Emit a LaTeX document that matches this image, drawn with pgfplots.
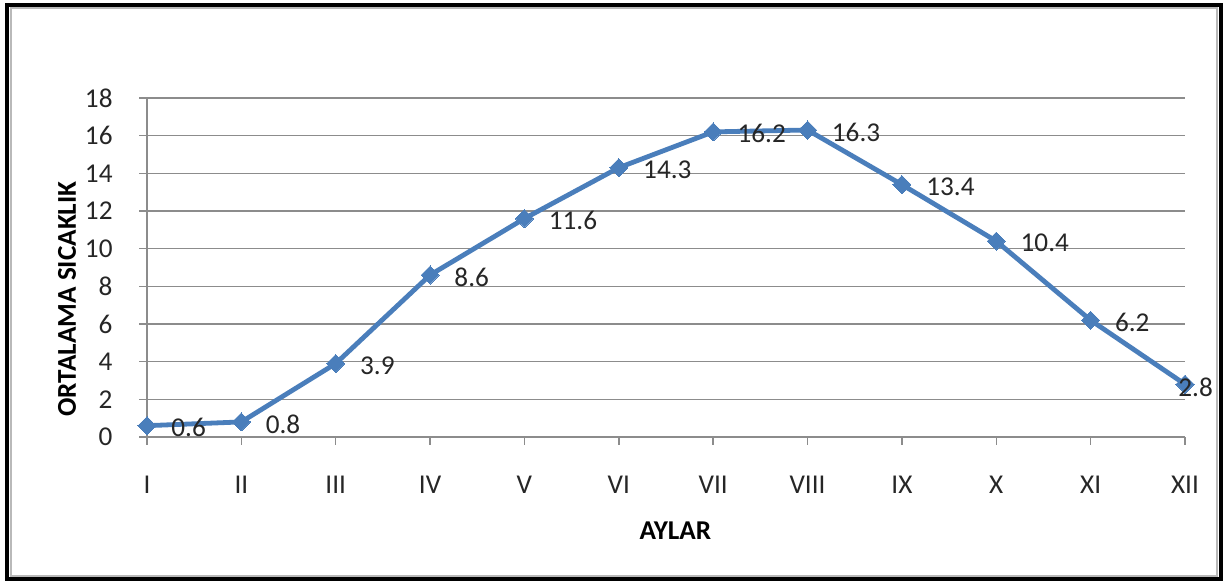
\documentclass[border=0pt]{standalone}
\usepackage{fontspec}
\setmainfont{Carlito}
\usepackage{pgfplots}
\pgfplotsset{compat=1.18}
\definecolor{serie}{HTML}{4A7EBB}
\definecolor{gridc}{HTML}{8C8C8C}
\newcommand{\fs}{\fontsize{13.6}{16}\selectfont}
\begin{document}
\fs
\begin{tikzpicture}
\useasboundingbox (0pt,0pt) rectangle (613.5pt,290.5pt);
\draw[gray!55, line width=1pt] (5.5pt,2.5pt) rectangle (608.25pt,286.25pt);
\draw[black, line width=2pt] (3.5pt,0.75pt) rectangle (610.5pt,288pt);
\begin{axis}[
  at={(73.5pt,72pt)}, anchor=south west,
  scale only axis, width=519pt, height=169.5pt,
  xmin=0, xmax=11, ymin=0, ymax=18,
  xtick={0,...,11},
  xticklabels={I,II,III,IV,V,VI,VII,VIII,IX,X,XI,XII},
  ytick={0,2,...,18},
  /pgf/number format/assume math mode=true,
  ymajorgrids,
  grid style={gridc, line width=0.75pt},
  axis x line*=bottom, axis y line*=left,
  axis line style={gridc, line width=0.75pt, -},
  tick style={gridc, line width=0.75pt},
  tick align=outside, major tick length=4pt,
  xticklabel style={font=\fs, yshift=-11pt, text=black!85},
  yticklabel style={font=\fs, xshift=-8.5pt, text=black!85},
  xlabel={\bfseries AYLAR},
  ylabel={\bfseries ORTALAMA SICAKLIK},
  xlabel style={at={(axis description cs:0.509,-0.277)}, anchor=center, font=\fs},
  ylabel style={at={(axis description cs:-0.077,0.407)}, anchor=center, font=\fs},
  clip=false,
]
\addplot[serie, line width=2.4pt, mark=square*, mark size=3.2pt,
  mark options={solid, rotate=45, fill=serie, draw=serie, line width=0pt}]
  coordinates {(0,0.6) (1,0.8) (2,3.9) (3,8.6) (4,11.6) (5,14.3) (6,16.2) (7,16.3) (8,13.4) (9,10.4) (10,6.2) (11,2.8)};
\addplot[draw=none, mark=none, nodes near coords={\pgfmathprintnumber[fixed,fixed zerofill,precision=1]{\pgfplotspointmeta}},
  every node near coord/.append style={anchor=west, inner sep=0pt, xshift=12pt, yshift=-1pt, text=black!85, font=\fs}]
  coordinates {(0,0.6) (1,0.8) (2,3.9) (3,8.6) (4,11.6) (5,14.3) (6,16.2) (7,16.3) (8,13.4) (9,10.4) (10,6.2)};
\addplot[draw=none, mark=none, nodes near coords={\pgfmathprintnumber[fixed,fixed zerofill,precision=1]{\pgfplotspointmeta}},
  every node near coord/.append style={anchor=west, inner sep=0pt, xshift=-3.5pt, yshift=-1.5pt, text=black!85, font=\fs}]
  coordinates {(11,2.8)};
\end{axis}
\end{tikzpicture}
\end{document}
